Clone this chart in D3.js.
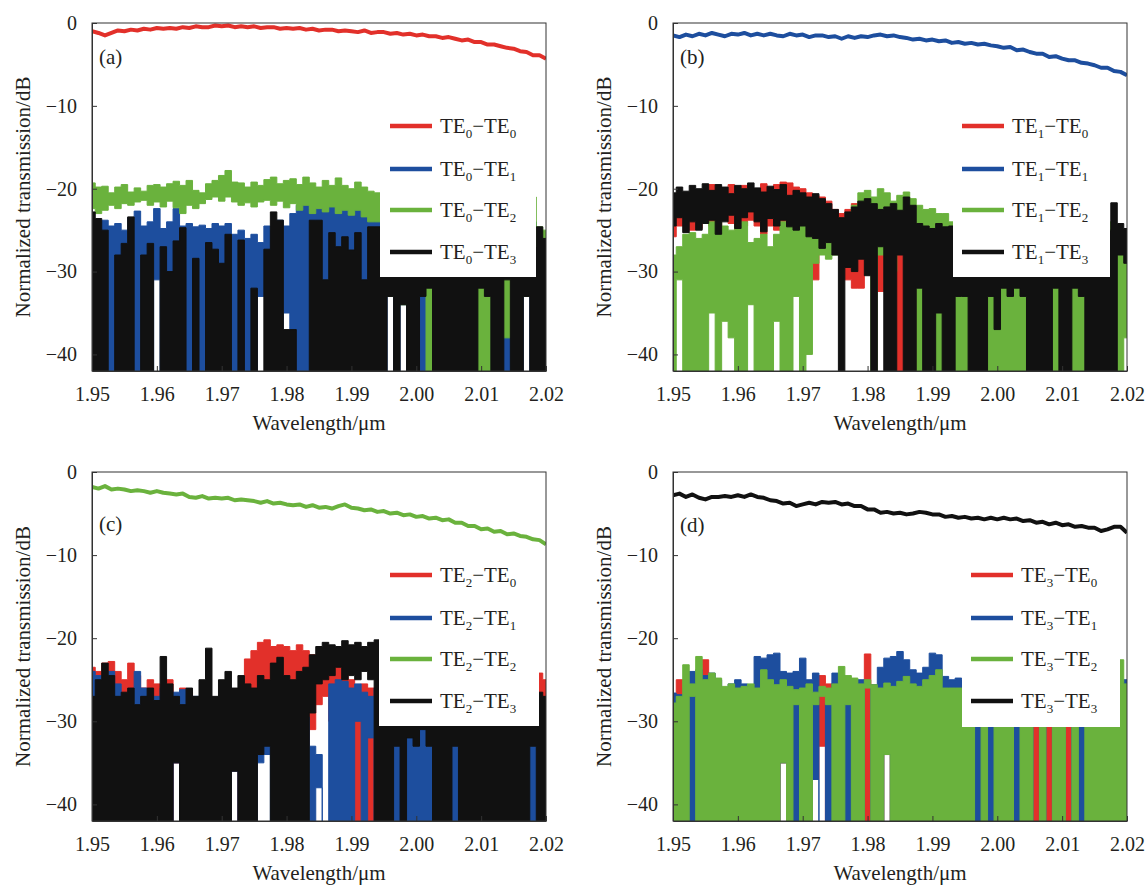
<!DOCTYPE html>
<html>
<head>
<meta charset="utf-8">
<script src="https://d3js.org/d3.v7.min.js"></script>
<title>Normalized transmission</title>
<style>
body { margin: 0; background: #fff; }
text { font-family: "Liberation Serif", "Times New Roman", serif; fill: #231f20; }
</style>
</head>
<body>
<script>

// wavelength sampling grid (um), 1 nm steps from 1.950 to 2.020
var wl = d3.range(71).map(function(i) { return 1.95 + i * 0.001; });

var xTicks = [1.95, 1.96, 1.97, 1.98, 1.99, 2.00, 2.01, 2.02];
var yTicks = [0, -10, -20, -30, -40];

// ---- (a) input TE0 ----
var aRed = [-1.0,-1.2,-1.5,-1.2,-0.9,-1.0,-0.8,-0.9,-0.7,-0.8,
  -0.6,-0.7,-0.6,-0.7,-0.5,-0.6,-0.4,-0.5,-0.5,-0.3,
  -0.4,-0.3,-0.5,-0.4,-0.5,-0.4,-0.6,-0.5,-0.5,-0.7,
  -0.6,-0.7,-0.6,-0.8,-0.7,-0.9,-0.8,-0.8,-1.0,-0.9,
  -1.0,-1.1,-0.9,-1.2,-1.1,-1.1,-1.3,-1.2,-1.4,-1.3,
  -1.5,-1.4,-1.6,-1.6,-1.8,-1.7,-1.9,-2.1,-2.0,-2.3,
  -2.3,-2.6,-2.6,-2.8,-3.0,-3.1,-3.4,-3.5,-3.9,-3.9,-4.3];
var aBlueHi = [-25,-24,-23.8,-24.5,-24.2,-25,-23.5,-22.7,-24.5,-24,
  -22.4,-24.8,-24,-22.4,-24.5,-24.2,-24.6,-24.4,-24.8,-24.2,
  -24.5,-24.2,-25.5,-25,-26,-25.5,-26.5,-24.5,-25,-23.8,
  -24.5,-23,-22,-21.8,-22.5,-21.6,-22.8,-22,-23,-22.2,
  -22.5,-21.5,-22.8,-21.7,-22.5,-23,-24,-24,-24,-24,
  -24,-24,-24,-24,-24,-24,-24,-24,-24,-24,
  -24,-24,-24,-24,-24,-24,-24,-24,-24,-26,-27];
var aBlueLo = [-44,-44,-44,-44,-44,-44,-44,-44,-44,-44,
  -31,-44,-44,-44,-44,-44,-44,-44,-44,-44,
  -44,-44,-44,-44,-44,-44,-33,-33,-44,-44,
  -35,-44,-44,-44,-44,-44,-44,-44,-44,-44,
  -44,-44,-44,-44,-44,-44,-33,-44,-34,-44,
  -44,-44,-44,-44,-44,-44,-44,-44,-44,-44,
  -44,-44,-44,-44,-44,-44,-44,-33,-44,-44,-44];
var aGreenHi = [-19.3,-19.8,-19.7,-20.5,-19.8,-19.5,-20.4,-19.9,-20.3,-19.6,
  -19.5,-19.8,-19.4,-19.1,-19.6,-19.0,-20.2,-20.5,-19.4,-19.0,
  -18.4,-17.8,-19.2,-19.3,-19.8,-19.2,-19.6,-18.9,-18.6,-19.4,
  -19.0,-18.8,-19.5,-18.6,-19.3,-19.8,-19.0,-19.6,-18.7,-19.6,
  -20.0,-19.2,-19.8,-20.3,-20.5,-21,-21,-21,-21,-21,
  -21,-21,-21,-21,-21,-21,-21,-21,-21,-21,
  -21,-21,-21,-21,-21,-21,-21,-21,-21,-24.6,-25];
var aGreenLo = [-22.4,-23.0,-22.6,-22.0,-22.4,-21.8,-22.0,-21.6,-21.4,-22.0,
  -21.6,-22.2,-21.5,-22.3,-23.0,-22.0,-22.4,-21.8,-21.3,-21.0,
  -21.5,-21.0,-21.6,-22.0,-21.7,-22.2,-21.6,-21.4,-22.0,-21.5,
  -22.3,-21.8,-22.6,-22.0,-23.0,-22.4,-22.8,-22.2,-23.0,-22.6,
  -23.2,-22.6,-23.4,-24.0,-24.0,-30,-33,-30,-34,-30,
  -30,-30,-44,-30,-31,-30,-31,-30,-30,-30,
  -44,-44,-30,-30,-38,-30,-30,-33,-30,-30,-31];
var aBlackHi = [-22.8,-23.6,-25,-44,-28,-26.6,-23.4,-44,-28,-26.6,
  -44,-27,-30,-26.3,-24.7,-44,-28.4,-44,-26.5,-27.3,
  -29,-25.5,-44,-26.2,-44,-32,-44,-27.3,-22.8,-23.8,
  -37,-37,-44,-44,-23.8,-23.8,-31,-25.3,-27,-25.8,
  -27.4,-25.3,-31,-24.6,-24.6,-28,-28,-28,-28,-28,
  -28,-28,-28,-28,-28,-28,-28,-28,-28,-28,
  -28,-28,-28,-28,-28,-28,-28,-28,-27,-24.6,-26];
var aBlackLo = [-44,-44,-44,-44,-44,-44,-44,-44,-44,-44,
  -44,-44,-44,-44,-44,-44,-44,-44,-44,-44,
  -44,-44,-44,-44,-44,-44,-44,-44,-44,-44,
  -44,-44,-44,-44,-44,-44,-44,-44,-44,-44,
  -44,-44,-44,-44,-44,-44,-33,-44,-34,-44,
  -44,-33,-32,-44,-44,-44,-44,-44,-44,-44,
  -32,-33,-44,-44,-31,-44,-44,-33,-44,-44,-44];

// ---- (b) input TE1 ----
var bRedHi = [-21,-20.5,-21,-20.8,-20.2,-20.5,-19.5,-19.8,-20.4,-19.5,
  -20.2,-19.6,-20.6,-20.0,-19.4,-20.2,-19.5,-19.2,-19.3,-19.8,
  -20.0,-20.5,-20.8,-21.0,-21.5,-22.5,-23,-22.5,-21.8,-22,
  -22.5,-22,-27.6,-22.5,-22.8,-24,-23,-24,-32,-35,
  -25,-25,-25,-25,-25,-25,-25,-25,-25,-25,
  -25,-25,-25,-25,-25,-25,-25,-25,-25,-25,
  -25,-25,-25,-25,-25,-25,-25,-25,-25,-25,-25];
var bRedLo = [-25.8,-24.5,-23.5,-25,-24.8,-23.8,-24.5,-25,-23.5,-24.2,
  -25,-24.5,-23.8,-24.5,-25.5,-24.5,-25,-24,-24.5,-25,
  -25.5,-28,-31,-27,-26.5,-26,-28,-31,-32,-32,
  -28,-30,-32.4,-27,-30,-44,-28,-30,-44,-44,
  -30,-30,-30,-30,-30,-30,-30,-30,-30,-30,
  -30,-30,-30,-30,-30,-30,-30,-30,-30,-30,
  -30,-30,-30,-30,-30,-30,-30,-30,-30,-30,-30];
var bBlue = [-1.5,-1.7,-1.4,-1.6,-1.3,-1.5,-1.2,-1.4,-1.6,-1.3,
  -1.4,-1.2,-1.5,-1.3,-1.5,-1.3,-1.5,-1.6,-1.3,-1.5,
  -1.4,-1.7,-1.5,-1.5,-1.7,-1.6,-1.9,-1.6,-1.8,-1.6,
  -1.7,-1.5,-1.4,-1.6,-1.5,-1.7,-1.8,-2.0,-1.9,-2.1,
  -2.0,-2.2,-2.1,-2.4,-2.3,-2.5,-2.4,-2.6,-2.5,-2.7,
  -2.8,-3.0,-2.9,-3.3,-3.2,-3.5,-3.7,-3.7,-4.1,-4.0,
  -4.3,-4.5,-4.5,-4.8,-4.9,-5.1,-5.4,-5.4,-5.8,-5.9,-6.3];
var bGreenHi = [-28,-27,-25.5,-25.3,-26,-25.5,-24.0,-23.5,-24.5,-25,
  -24.5,-24.0,-26.5,-26.0,-25.5,-27,-25.5,-24.0,-23.5,-24.5,
  -23.8,-25,-24.5,-25.5,-26.5,-27.5,-25,-24.5,-22,-20.5,
  -20.2,-21,-20.0,-20.5,-21.5,-20.8,-20.4,-21.2,-22.0,-22.5,
  -22.4,-23,-23,-24,-24,-24,-24,-24,-24,-24,
  -24,-24,-24,-24,-24,-24,-24,-24,-24,-24,
  -24,-24,-24,-24,-24,-24,-24,-24,-26,-27,-26];
var bGreenLo = [-44,-31,-44,-44,-44,-44,-35,-44,-36,-38,
  -44,-44,-34,-44,-44,-44,-36,-44,-44,-33,
  -44,-40,-29,-28,-28.5,-28,-27,-29,-26,-25,
  -26,-44,-28,-27,-30,-26,-27,-25,-44,-44,
  -44,-44,-44,-44,-44,-44,-44,-44,-44,-44,
  -44,-44,-44,-44,-44,-44,-44,-44,-44,-44,
  -44,-44,-44,-44,-44,-44,-44,-44,-44,-44,-38];
var bBlackHi = [-20.5,-19.8,-20.3,-19.6,-20.0,-19.4,-20.2,-19.5,-19.8,-20.6,
  -19.6,-20.0,-19.3,-19.9,-20.4,-19.7,-20.1,-19.5,-20.8,-20.2,
  -20.5,-21.0,-20.6,-21.2,-21.8,-22.5,-23.5,-22.8,-22.2,-21.5,
  -21.2,-21.8,-22.5,-22.2,-21.8,-22.6,-21,-22,-24.2,-24.5,
  -24.8,-24.2,-24.6,-24.5,-25,-25,-25,-25,-25,-25,
  -25,-25,-25,-25,-25,-25,-25,-25,-25,-25,
  -25,-25,-25,-25,-25,-25,-25,-25,-21.7,-24.2,-24.8];
var bBlackLo = [-24.5,-23.5,-25.3,-24.0,-25.0,-24.2,-23.8,-25.5,-24.0,-23.2,
  -24.8,-23.5,-22.8,-24.0,-25.2,-23.6,-24.5,-23.8,-24.6,-25.0,
  -24.5,-25.8,-26,-27.2,-26.5,-28,-44,-29.5,-30,-28.5,
  -30.5,-44,-27,-44,-44,-28,-44,-44,-32,-44,
  -44,-35,-44,-44,-33,-33,-44,-44,-44,-33,
  -37,-32,-33,-32,-33,-44,-44,-44,-44,-32,
  -44,-44,-32,-33,-44,-44,-44,-44,-44,-28,-29];

// ---- (c) input TE2 ----
var cRedHi = [-23.5,-24,-23,-22.8,-24,-25,-23,-24.5,-26,-25,
  -25.5,-26,-25,-27,-26,-26.5,-27.5,-28,-28.5,-29,
  -28,-27,-28.5,-26,-22.5,-21.5,-20.5,-20.2,-21,-20.8,
  -21,-21.5,-20.8,-21.5,-22,-22.8,-24,-23,-22.8,-24,
  -25,-26.5,-25.5,-26,-26,-27,-27,-27,-27,-27,
  -27,-27,-27,-27,-27,-27,-27,-27,-27,-27,
  -27,-27,-27,-27,-27,-27,-27,-27,-27,-24.2,-25];
var cRedLo = [-44,-44,-44,-44,-44,-44,-44,-44,-44,-44,
  -44,-44,-44,-35,-44,-44,-44,-44,-44,-44,
  -44,-44,-36,-44,-30,-28,-32,-33,-30,-29,
  -28,-30,-32,-34,-31,-28,-27,-30,-33,-34,
  -44,-44,-36,-44,-38,-44,-44,-44,-44,-44,
  -44,-44,-44,-44,-44,-44,-44,-44,-44,-44,
  -44,-44,-44,-44,-44,-44,-44,-44,-44,-44,-44];
var cBlueHi = [-24,-24.5,-25,-24,-25.5,-27,-26.5,-24,-26,-27,
  -27,-26,-27.5,-26.5,-26.2,-28,-27,-28.5,-27,-28,
  -27,-28,-26.5,-29,-27.5,-29,-30,-31,-32,-32.5,
  -31,-32,-30,-29.5,-33,-34,-44,-25.5,-25,-25.2,
  -26,-25.5,-26.5,-27,-26,-27,-28,-29,-30,-30,
  -30,-30,-30,-30,-30,-30,-30,-30,-30,-30,
  -30,-30,-30,-30,-30,-30,-30,-30,-30,-29,-30];
var cBlueLo = [-44,-44,-44,-44,-44,-44,-44,-44,-44,-44,
  -44,-44,-44,-35,-44,-44,-44,-44,-44,-44,
  -44,-44,-36,-44,-44,-44,-35,-34,-44,-44,
  -44,-44,-44,-44,-44,-38,-44,-44,-44,-44,
  -44,-30,-44,-32,-44,-44,-44,-44,-44,-44,
  -44,-44,-44,-44,-44,-44,-44,-44,-44,-44,
  -44,-44,-44,-44,-44,-44,-44,-44,-44,-44,-44];
var cGreen = [-1.8,-2.0,-1.7,-2.1,-2.0,-2.1,-2.3,-2.2,-2.3,-2.5,
  -2.3,-2.5,-2.6,-2.7,-2.6,-3.0,-3.1,-2.9,-3.2,-3.1,
  -3.2,-3.1,-3.4,-3.3,-3.4,-3.5,-3.7,-3.5,-3.8,-3.7,
  -3.9,-4.0,-3.9,-4.2,-4.0,-4.3,-4.2,-4.4,-4.1,-3.9,
  -4.3,-4.4,-4.6,-4.5,-4.8,-4.7,-5.0,-4.9,-5.2,-5.1,
  -5.4,-5.3,-5.6,-5.5,-5.8,-5.7,-6.1,-6.1,-6.5,-6.5,
  -6.9,-6.8,-7.2,-7.1,-7.5,-7.4,-7.7,-7.8,-8.1,-8.2,-8.7];
var cBlackHi = [-27,-25,-23,-24.5,-27,-26.5,-26,-28,-27,-26,
  -27.5,-22.2,-25.5,-27,-28,-26,-27,-25,-21.2,-27,
  -25,-24,-26,-24.5,-25.5,-26,-24.5,-25,-23,-22.3,
  -24.5,-25,-24,-23.5,-22,-21,-20.5,-20.8,-21,-20.3,
  -20.8,-20.5,-21,-20.5,-20.2,-24,-24,-24,-24,-24,
  -24,-24,-24,-24,-24,-24,-24,-24,-24,-24,
  -24,-24,-24,-24,-24,-24,-24,-24,-25,-26.5,-27];
var cBlackLo = [-44,-44,-44,-44,-44,-44,-44,-44,-44,-44,
  -44,-44,-44,-35,-44,-44,-44,-44,-44,-44,
  -44,-44,-36,-44,-44,-44,-34,-33,-44,-44,
  -44,-44,-44,-44,-29,-25.5,-25,-24.5,-23.5,-25,
  -24.5,-25,-24,-25,-44,-44,-44,-33,-44,-32,
  -33,-31,-33,-44,-44,-44,-33,-44,-44,-44,
  -44,-44,-44,-44,-44,-44,-44,-44,-33,-44,-44];

// ---- (d) input TE3 ----
var dRedHi = [-27,-25,-26,-27,-26,-22.6,-25,-26,-26,-27,
  -27,-27,-26,-27,-26,-26,-27,-27,-27,-27,
  -27,-27,-27,-24.5,-25.5,-27,-27,-27,-27,-27,
  -21.9,-26,-27,-27,-27,-24.5,-27,-27,-28,-28,
  -27,-27,-27,-27,-27,-27,-27,-27,-27,-27,
  -27,-27,-27,-27,-27,-27,-27,-27,-27,-27,
  -27,-27,-27,-27,-27,-27,-27,-27,-27,-27,-27];
var dRedLo = [-44,-44,-44,-44,-44,-44,-44,-44,-44,-44,
  -44,-44,-44,-44,-44,-44,-44,-35,-44,-44,
  -44,-44,-37,-33,-44,-44,-44,-44,-44,-44,
  -44,-44,-44,-34,-44,-44,-44,-44,-44,-44,
  -44,-44,-44,-44,-44,-44,-44,-44,-44,-44,
  -44,-44,-44,-44,-44,-44,-44,-44,-44,-44,
  -44,-44,-44,-44,-44,-44,-44,-44,-44,-44,-44];
var dBlueHi = [-26.6,-26.8,-27.5,-24,-23.8,-24.5,-24.2,-25,-26,-25.5,
  -25,-25.5,-26,-22.2,-22.4,-22,-21.8,-24,-24.2,-24,
  -22.4,-25,-24.2,-44,-27.8,-24.2,-24.5,-25,-25.5,-25,
  -44,-25.6,-23.5,-22.4,-22.2,-21.6,-22.6,-23.8,-24.2,-23.5,
  -21.8,-22,-24.6,-25,-24.8,-25,-25,-25,-25,-25,
  -25,-25,-25,-25,-25,-25,-25,-25,-25,-25,
  -25,-25,-25,-25,-25,-25,-25,-25,-25,-25.2,-25];
var dBlueLo = [-44,-44,-44,-44,-44,-44,-44,-44,-44,-44,
  -44,-44,-44,-44,-44,-44,-44,-35,-44,-44,
  -44,-44,-37,-44,-44,-44,-44,-44,-44,-44,
  -44,-44,-44,-34,-44,-44,-44,-44,-44,-44,
  -44,-44,-44,-44,-44,-44,-44,-44,-44,-44,
  -44,-44,-44,-44,-44,-44,-30,-44,-30,-44,
  -44,-30,-44,-44,-44,-44,-44,-44,-44,-44,-44];
var dGreenHi = [-27.8,-27,-23.2,-25.5,-22.2,-25,-24.2,-24.8,-25.8,-25.5,
  -26,-25.8,-25.5,-26,-23.8,-25,-25.6,-25,-25.8,-26.2,
  -26,-25.5,-26.5,-25.8,-26,-25.5,-23.4,-24.5,-24.8,-25.5,
  -25,-25.6,-26,-25.4,-25.8,-25.2,-24.6,-25.5,-25.8,-25,
  -24.5,-23.8,-26,-26,-26,-26,-26,-26,-26,-26,
  -26,-26,-26,-26,-26,-26,-26,-26,-26,-26,
  -26,-26,-26,-26,-26,-26,-26,-26,-25,-22.6,-25.5];
var dGreenLo = [-44,-44,-44,-27,-44,-44,-44,-44,-44,-44,
  -44,-44,-44,-44,-44,-44,-44,-35,-44,-28,
  -44,-44,-28,-27,-28,-44,-44,-28,-44,-44,
  -26,-44,-44,-34,-44,-44,-44,-44,-44,-44,
  -44,-44,-44,-44,-44,-44,-44,-30,-44,-30,
  -44,-44,-44,-30,-44,-44,-30,-44,-30,-44,
  -44,-30,-44,-30,-44,-44,-44,-44,-44,-44,-44];
var dBlack = [-2.8,-2.6,-3.0,-2.7,-3.1,-3.3,-3.0,-3.0,-2.9,-3.0,
  -2.8,-3.0,-2.7,-3.0,-3.1,-3.4,-3.5,-3.8,-3.7,-4.1,
  -3.9,-3.7,-3.9,-3.6,-3.7,-3.6,-3.9,-3.8,-4.1,-4.1,
  -4.5,-4.5,-4.9,-4.8,-5.0,-4.9,-5.1,-5.0,-4.8,-4.9,
  -5.1,-5.1,-5.4,-5.3,-5.5,-5.4,-5.6,-5.5,-5.7,-5.5,
  -5.7,-5.5,-5.7,-5.6,-5.9,-5.8,-6.1,-6.0,-6.3,-6.1,
  -6.4,-6.3,-6.6,-6.5,-6.7,-6.7,-7.1,-6.9,-6.6,-6.6,-7.3];

var modeOut = [0, 1, 2, 3];   // output mode index of each legend entry

var RED = "#e2302a", BLUE = "#1d4e9e", GREEN = "#6ab23d", BLACK = "#111111";

var W = 454;

var panels = [
  { tag: "a", mode: 0, left: 92, top: 23, h: 348, labelY: 41, legX: 298, box: [288, 77, 444, 254],
    series: [ { color: RED, line: aRed }, { color: BLUE, hi: aBlueHi, lo: aBlueLo },
              { color: GREEN, hi: aGreenHi, lo: aGreenLo }, { color: BLACK, hi: aBlackHi, lo: aBlackLo } ] },
  { tag: "b", mode: 1, left: 673, top: 23, h: 348, labelY: 41, legX: 289, box: [280, 77, 437, 254],
    series: [ { color: RED, hi: bRedHi, lo: bRedLo }, { color: BLUE, line: bBlue },
              { color: GREEN, hi: bGreenHi, lo: bGreenLo }, { color: BLACK, hi: bBlackHi, lo: bBlackLo } ] },
  { tag: "c", mode: 2, left: 92, top: 472, h: 349, labelY: 59, legX: 298, box: [287, 77, 447, 254],
    series: [ { color: RED, hi: cRedHi, lo: cRedLo }, { color: BLUE, hi: cBlueHi, lo: cBlueLo },
              { color: GREEN, line: cGreen }, { color: BLACK, hi: cBlackHi, lo: cBlackLo } ] },
  { tag: "d", mode: 3, left: 673, top: 472, h: 349, labelY: 60, legX: 298, box: [289, 77, 447, 255],
    series: [ { color: RED, hi: dRedHi, lo: dRedLo }, { color: BLUE, hi: dBlueHi, lo: dBlueLo },
              { color: GREEN, hi: dGreenHi, lo: dGreenLo }, { color: BLACK, line: dBlack } ] }
];

var svg = d3.select("body").append("svg")
  .attr("width", 1147)
  .attr("height", 885)
  .style("font-family", "'Liberation Serif', 'Times New Roman', serif");

function minusFmt(d) { return d < 0 ? "\u2212" + Math.abs(d) : String(d); }

panels.forEach(function(p) {
  var x = d3.scaleLinear().domain([1.95, 2.02]).range([0, W]);
  var y = d3.scaleLinear().domain([-42, 0]).range([p.h, 0]);

  var g = svg.append("g").attr("transform", "translate(" + p.left + "," + p.top + ")");

  g.append("clipPath").attr("id", "clip-" + p.tag)
    .append("rect").attr("width", W).attr("height", p.h);

  var plot = g.append("g").attr("clip-path", "url(#clip-" + p.tag + ")");

  var band = d3.area()
    .x(function(d, i) { return x(wl[i]); })
    .curve(d3.curveStep);
  var line = d3.line()
    .x(function(d, i) { return x(wl[i]); })
    .y(function(d) { return y(d); });

  p.series.forEach(function(s) {
    if (s.line) {
      plot.append("path")
        .attr("d", line(s.line))
        .attr("fill", "none")
        .attr("stroke", s.color)
        .attr("stroke-width", 4)
        .attr("stroke-linejoin", "round");
    } else {
      band.y0(function(d, i) { return y(s.lo[i]); })
          .y1(function(d, i) { return y(s.hi[i]); });
      plot.append("path")
        .attr("d", band(s.hi))
        .attr("fill", s.color)
        .attr("stroke", s.color)
        .attr("stroke-width", 1);
    }
  });

  // legend (opaque white box hides the traces behind it)
  var b = p.box;
  g.append("rect")
    .attr("x", b[0]).attr("y", b[1])
    .attr("width", b[2] - b[0]).attr("height", b[3] - b[1])
    .attr("fill", "#fff");

  var legY = [103, 146, 187, 229];
  p.series.forEach(function(s, i) {
    g.append("line")
      .attr("x1", p.legX).attr("x2", p.legX + 42)
      .attr("y1", legY[i]).attr("y2", legY[i])
      .attr("stroke", s.color).attr("stroke-width", 4.5);
    var t = g.append("text")
      .attr("x", p.legX + 50).attr("y", legY[i] + 7)
      .style("font-size", "21px");
    t.append("tspan").text("TE");
    t.append("tspan").attr("dy", 5).style("font-size", "13px").text(p.mode);
    t.append("tspan").attr("dy", -5).text("\u2212TE");
    t.append("tspan").attr("dy", 5).style("font-size", "13px").text(modeOut[i]);
  });

  // axes
  var xAxis = d3.axisBottom(x).tickValues(xTicks).tickSize(-5).tickSizeOuter(0)
    .tickPadding(16).tickFormat(d3.format(".2f"));
  var yAxis = d3.axisLeft(y).tickValues(yTicks).tickSize(-5).tickSizeOuter(0)
    .tickPadding(15).tickFormat(minusFmt);

  var gx = g.append("g").attr("transform", "translate(0," + p.h + ")").call(xAxis);
  var gy = g.append("g").call(yAxis);
  [gx, gy].forEach(function(ax) {
    ax.attr("font-family", null);
    ax.selectAll("text").style("font-size", "20px")
      .style("font-family", "'Liberation Serif', 'Times New Roman', serif").attr("fill", "#231f20");
    ax.selectAll("line").attr("stroke", "#333");
    ax.select(".domain").attr("stroke", "#333");
  });

  g.append("rect")
    .attr("width", W).attr("height", p.h)
    .attr("fill", "none").attr("stroke", "#333").attr("stroke-width", 1);

  g.append("text")
    .attr("x", 7).attr("y", p.labelY)
    .style("font-size", "21px")
    .text("(" + p.tag + ")");

  g.append("text")
    .attr("transform", "translate(-69," + (p.h / 2) + ") rotate(-90)")
    .attr("text-anchor", "middle")
    .attr("dy", "0.35em")
    .style("font-size", "21px")
    .text("Normalized transmission/dB");

  g.append("text")
    .attr("x", W / 2).attr("y", p.h + 59)
    .attr("text-anchor", "middle")
    .style("font-size", "21px")
    .text("Wavelength/\u03bcm");
});

</script>
</body>
</html>
